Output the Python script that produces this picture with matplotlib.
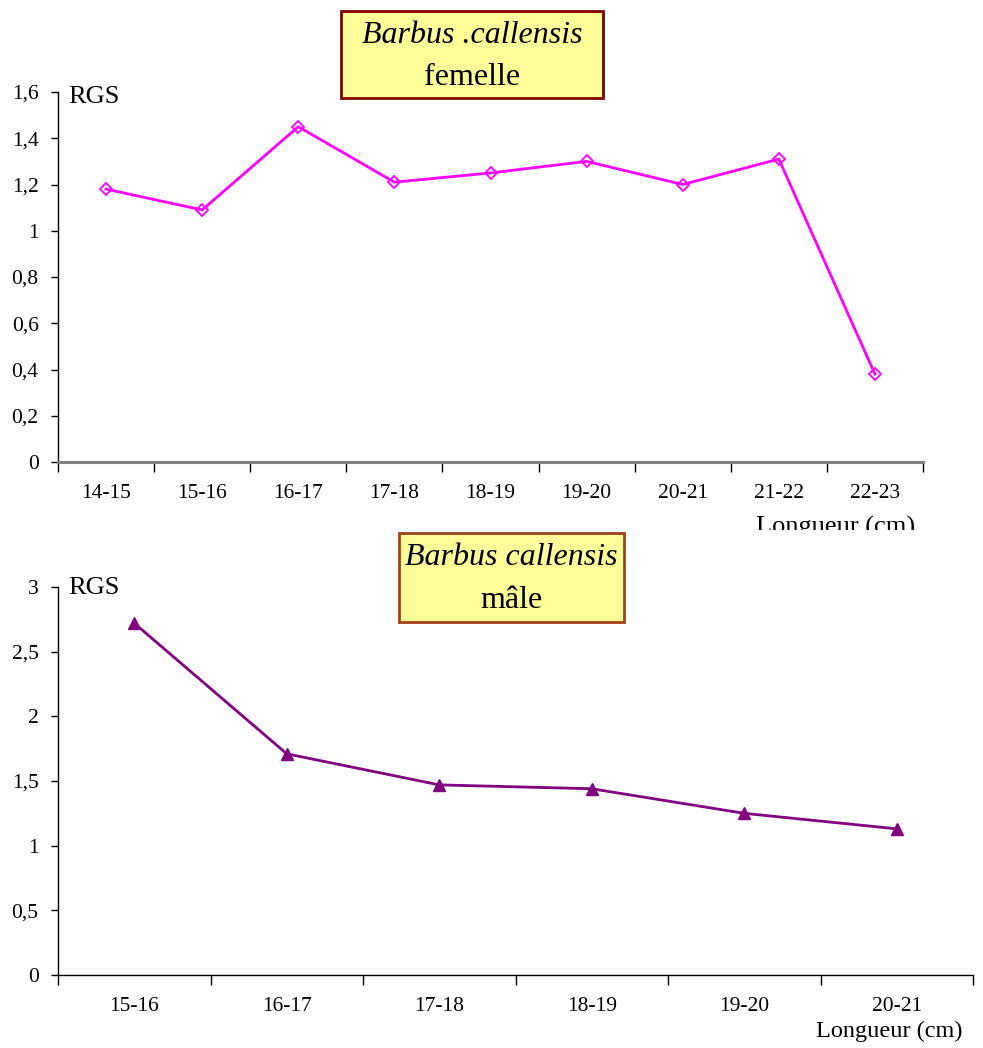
import matplotlib
matplotlib.use("Agg")
import matplotlib.pyplot as plt
from matplotlib.ticker import FixedLocator, FuncFormatter
from matplotlib.patches import Rectangle
from matplotlib.transforms import Bbox

plt.rcParams['font.family'] = ['Liberation Serif', 'DejaVu Serif']

# Female RGS by length class
fem_classes = ["14-15", "15-16", "16-17", "17-18", "18-19", "19-20", "20-21", "21-22", "22-23"]
fem_rgs = [1.18, 1.09, 1.45, 1.21, 1.25, 1.30, 1.20, 1.31, 0.38]

# Male RGS by length class
male_classes = ["15-16", "16-17", "17-18", "18-19", "19-20", "20-21"]
male_rgs = [2.72, 1.71, 1.47, 1.44, 1.25, 1.13]

fem_yticks = [0, 0.2, 0.4, 0.6, 0.8, 1, 1.2, 1.4, 1.6]
male_yticks = [0, 0.5, 1, 1.5, 2, 2.5, 3]

W, H = 983, 1048
fig = plt.figure(figsize=(W / 100, H / 100), dpi=100)


def fx(px):
    return px / W


def fy(py):
    return 1 - py / H


def comma(v, _pos=None):
    return f"{v:g}".replace('.', ',')


def style_axes(ax, classes, yticks, ymax, xcolor, xlw):
    n = len(classes)
    x = list(range(n))
    ax.set_xlim(-0.5, n - 0.5)
    ax.set_ylim(0, ymax)
    for s in ("top", "right"):
        ax.spines[s].set_visible(False)
    ax.spines["left"].set_linewidth(1)
    ax.spines["bottom"].set_color(xcolor)
    ax.spines["bottom"].set_linewidth(xlw)
    ax.xaxis.set_major_locator(FixedLocator([i - 0.5 for i in range(n + 1)]))
    ax.xaxis.set_major_formatter(FuncFormatter(lambda v, p: ""))
    ax.xaxis.set_minor_locator(FixedLocator(x))
    ax.set_xticklabels(classes, minor=True)
    ax.tick_params(axis="x", which="major", direction="out", length=7, width=1, color="black")
    ax.tick_params(axis="x", which="minor", length=0, pad=15.5, labelsize=15.5)
    ax.yaxis.set_major_locator(FixedLocator(yticks))
    ax.yaxis.set_major_formatter(FuncFormatter(comma))
    ax.tick_params(axis="y", direction="out", length=5, width=1, pad=9, labelsize=15.5)
    return x


def title_box(x0, y0, x1, y1, line1, line2, edge):
    fig.patches.append(Rectangle((fx(x0), fy(y1)), fx(x1) - fx(x0), fy(y0) - fy(y1),
                                 transform=fig.transFigure, facecolor="#FFFF99",
                                 edgecolor=edge, linewidth=2, zorder=5))
    cx = fx((x0 + x1) / 2)
    fig.text(cx, fy(y0 + (y1 - y0) * 0.28), line1, style="italic", fontsize=23,
             ha="center", va="center", zorder=6)
    fig.text(cx, fy(y0 + (y1 - y0) * 0.76), line2, fontsize=23,
             ha="center", va="center", zorder=6)


# ---- female panel ----
ax1 = fig.add_axes([fx(58), fy(462), fx(923) - fx(58), fy(92) - fy(462)])
x1 = style_axes(ax1, fem_classes, fem_yticks, 1.6, "#808080", 2.2)
ax1.plot(x1, fem_rgs, color="#FF00FF", linewidth=2, marker="D", markersize=6,
         markerfacecolor="none", markeredgecolor="#FF00FF", markeredgewidth=1.3,
         clip_on=False)
fig.text(fx(68), fy(97), "RGS", fontsize=19, ha="left", va="center")
lt = fig.text(fx(915), fy(527), "Longueur (cm)", fontsize=19, ha="right", va="center")
lt.set_clip_box(Bbox.from_extents(0, H - 530, W, H))
lt.set_clip_on(True)
title_box(341, 11, 603, 98, "Barbus .callensis", "femelle", "#800000")

# ---- male panel ----
ax2 = fig.add_axes([fx(58), fy(975), fx(973) - fx(58), fy(587) - fy(975)])
x2 = style_axes(ax2, male_classes, male_yticks, 3, "black", 1)
ax2.plot(x2, male_rgs, color="#800080", linewidth=2, marker="^", markersize=8,
         markerfacecolor="#800080", markeredgecolor="#800080", clip_on=False)
fig.text(fx(68), fy(588), "RGS", fontsize=19, ha="left", va="center")
fig.text(fx(963), fy(1031), "Longueur (cm)", fontsize=17.5, ha="right", va="center")
title_box(399, 533, 624, 622, "Barbus callensis", "mâle", "#A0401A")

fig.savefig("out.png", dpi=100, facecolor="white")
